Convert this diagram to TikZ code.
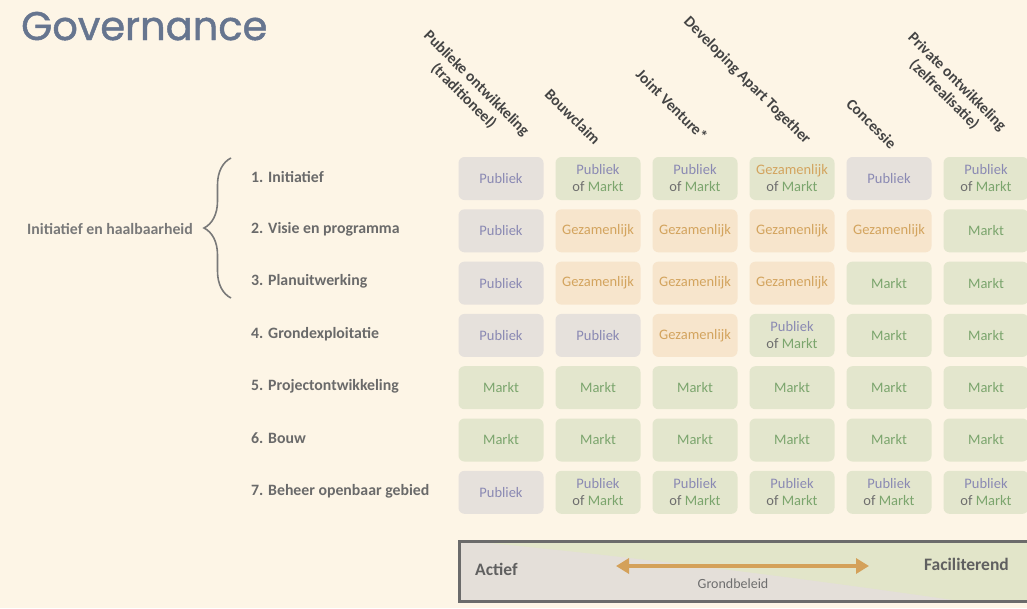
\documentclass[tikz,border=0pt]{standalone}
\usepackage{fontspec}
\setmainfont{Carlito}
\newfontfamily\titlefont[FakeBold=1.2]{Poppins}
\usepackage{tikz}
\usetikzlibrary{positioning}
\usetikzlibrary{decorations.pathreplacing}
\usetikzlibrary{arrows.meta}
\definecolor{bgcol}{HTML}{FDF5E6}
\definecolor{titlecol}{HTML}{66758F}
\definecolor{pubfill}{HTML}{E6E1DC}
\definecolor{gezfill}{HTML}{F7E5CC}
\definecolor{mktfill}{HTML}{E3E6CD}
\definecolor{pubtext}{HTML}{8A89B3}
\definecolor{geztext}{HTML}{D3A45E}
\definecolor{mkttext}{HTML}{7BA56D}
\definecolor{oftext}{HTML}{6E6E6E}
\definecolor{headtext}{HTML}{444444}
\definecolor{phasetext}{HTML}{6A6A6A}
\definecolor{arrowcol}{HTML}{D4A15A}
\definecolor{scalegray}{HTML}{E4DFD9}
\definecolor{scalegreen}{HTML}{E2E5C9}
\definecolor{framecol}{HTML}{6B6B6B}

\begin{document}
\begin{tikzpicture}[x=1pt, y=-1pt,
	cell/.style={rectangle, rounded corners=6pt, minimum width=85pt, minimum height=43pt, inner sep=0pt, align=center, font=\fontsize{14.5}{17}\selectfont},
	cellP/.style={cell, fill=pubfill, text=pubtext, node contents={Publiek}},
	cellG/.style={cell, fill=gezfill, text=geztext, node contents={Gezamenlijk}},
	cellM/.style={cell, fill=mktfill, text=mkttext, node contents={Markt}},
	cellPM/.style={cell, fill=mktfill, node contents={\textcolor{pubtext}{Publiek}\\\textcolor{oftext}{of} \textcolor{mkttext}{Markt}}},
	cellGM/.style={cell, fill=mktfill, node contents={\textcolor{geztext}{Gezamenlijk}\\\textcolor{oftext}{of} \textcolor{mkttext}{Markt}}},
	header/.style={rotate=-45, anchor=east, align=center, inner sep=0pt, text=headtext, font=\bfseries\fontsize{15.5}{18}\selectfont},
	phase/.style={anchor=west, inner sep=0pt, text=phasetext, font=\bfseries\fontsize{15.8}{18}\selectfont},
	scalelabel/.style={inner sep=0pt, text=headtext!85, font=\bfseries\fontsize{17.5}{20}\selectfont},
	scalearrow/.style={{Triangle[length=13pt,width=15pt]}-{Triangle[length=13pt,width=15pt]}, line width=4.5pt, draw=arrowcol}]

	\fill[bgcol] (0,0) rectangle (1027,608);
	\useasboundingbox (0,0) rectangle (1027,608);

	\node[anchor=base west, inner sep=0pt, text=titlecol, font=\titlefont\fontsize{40}{44}\selectfont](title) at (21,40) {Governance};

	\foreach \x/\y/\txt [count=\n] in {520/140/{Publieke ontwikkeling\\(traditioneel)}, 598/142/Bouwclaim, 705/138/Joint Venture*, 808/142/Developing Apart Together, 894/146/Concessie, 997/135/{Private ontwikkeling\\(zelfrealisatie)}}
		\node[header](head-\n) at (\x,\y) {\txt};

	\foreach \lbl [count=\r] in {1. Initiatief, 2. Visie en programma, 3. Planuitwerking, 4. Grondexploitatie, 5. Projectontwikkeling, 6. Bouw, 7. Beheer openbaar gebied}
		\node[phase](phase-\r) at (251, {177+52.3*(\r-1)}) {\lbl};

	\foreach \codes [count=\r] in {{P,PM,PM,GM,P,PM}, {P,G,G,G,G,M}, {P,G,G,G,M,M}, {P,P,G,PM,M,M}, {M,M,M,M,M,M}, {M,M,M,M,M,M}, {P,PM,PM,PM,PM,PM}}
		\foreach \c [count=\col] in \codes
			\node (cell-\r-\col) at ({501+97*(\col-1)}, {178.5+52.3*(\r-1)}) [cell\c];

	\coordinate (brace-bot) at (231,298);
	\coordinate (brace-top) at (231,158);
	\draw[phasetext!90, line width=1.6pt, decorate, decoration={brace, amplitude=27pt}] (brace-bot) -- (brace-top);
	\node[anchor=east, inner sep=0pt, text=phasetext!90, font=\bfseries\fontsize{15.8}{18}\selectfont](group) at (193,229) {Initiatief en haalbaarheid};

	\fill[scalegray] (459,541) rectangle (1032,601);
	\fill[scalegreen] (468,541) .. controls (650,558) and (850,585) .. (960,601) -- (1032,601) -- (1032,541) -- cycle;
	\draw[framecol, line width=3pt] (459,541) rectangle (1034,601);

	\node[scalelabel, anchor=west](actief) at (475,569) {Actief};
	\node[scalelabel, anchor=east](facil) at (1009,564) {Faciliterend};
	\node[inner sep=0pt, text=oftext, font=\fontsize{14}{16}\selectfont](grond) at (733,584) {Grondbeleid};
	\coordinate (arrow-l) at (616,566);
	\coordinate (arrow-r) at (869,566);
	\draw[scalearrow] (arrow-l) -- (arrow-r);
\end{tikzpicture}
\end{document}
